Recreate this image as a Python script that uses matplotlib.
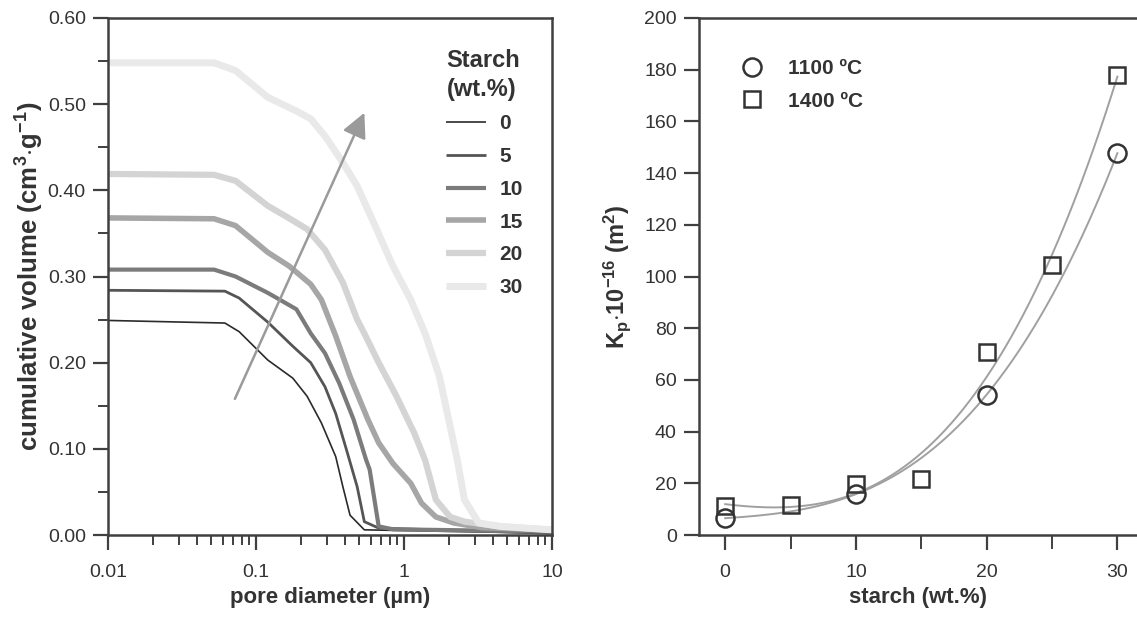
import numpy as np
import matplotlib
matplotlib.use('Agg')
import matplotlib.pyplot as plt
from matplotlib.ticker import FixedLocator, FuncFormatter, NullFormatter, LogLocator

plt.rcParams['font.family'] = ['Liberation Sans', 'DejaVu Sans']
plt.rcParams['mathtext.fontset'] = 'custom'
plt.rcParams['mathtext.rm'] = 'Liberation Sans'
plt.rcParams['mathtext.bf'] = 'Liberation Sans:bold'
plt.rcParams['mathtext.default'] = 'bf'

# ---- left panel: cumulative pore volume curves ----
starch = ['0', '5', '10', '15', '20', '30']

diam_0 = [0.01, 0.0616, 0.0769, 0.1202, 0.1774, 0.2215, 0.2767, 0.3456, 0.3864, 0.4318, 0.5395, 10]
vol_0 = [0.249, 0.246, 0.236, 0.203, 0.182, 0.161, 0.130, 0.091, 0.056, 0.023, 0.006, 0.002]

diam_5 = [0.01, 0.0616, 0.0769, 0.1202, 0.1774, 0.2343, 0.2925, 0.3456, 0.4085, 0.4826, 0.5395, 0.6745, 10]
vol_5 = [0.284, 0.283, 0.275, 0.247, 0.219, 0.200, 0.172, 0.141, 0.099, 0.056, 0.0155, 0.008, 0.002]

diam_10 = [0.01, 0.0521, 0.0728, 0.1202, 0.1875, 0.2343, 0.2925, 0.3654, 0.4565, 0.555, 0.586, 0.6745, 0.842, 10]
vol_10 = [0.308, 0.308, 0.300, 0.281, 0.262, 0.234, 0.211, 0.176, 0.134, 0.087, 0.076, 0.010, 0.0066, 0.004]

diam_15 = [0.01, 0.0521, 0.0728, 0.1202, 0.1678, 0.2343, 0.2767, 0.3456, 0.4318, 0.5703, 0.6745,
           0.842, 1.111, 1.313, 1.641, 2.168, 3.38, 10]
vol_15 = [0.368, 0.367, 0.359, 0.328, 0.312, 0.291, 0.273, 0.231, 0.184, 0.134, 0.107,
          0.083, 0.060, 0.037, 0.021, 0.014, 0.0085, 0.006]

diam_20 = [0.01, 0.0521, 0.0728, 0.1202, 0.1585, 0.2215, 0.2925, 0.3864, 0.4826, 0.5395, 0.6745,
           0.890, 1.175, 1.388, 1.641, 2.05, 2.56, 4.465, 10]
vol_20 = [0.419, 0.418, 0.411, 0.382, 0.370, 0.355, 0.331, 0.293, 0.250, 0.234, 0.200,
          0.161, 0.118, 0.087, 0.041, 0.021, 0.0155, 0.010, 0.006]

diam_30 = [0.01, 0.0521, 0.0728, 0.1202, 0.1875, 0.2343, 0.2925, 0.3864, 0.4826, 0.637, 0.842,
           1.111, 1.388, 1.735, 2.05, 2.292, 2.56, 3.197, 4.465, 10]
vol_30 = [0.548, 0.548, 0.539, 0.508, 0.492, 0.483, 0.463, 0.432, 0.405, 0.359, 0.312,
          0.273, 0.234, 0.184, 0.126, 0.087, 0.041, 0.014, 0.010, 0.006]

# ---- right panel: permeability vs starch ----
starch_1100 = [0, 10, 20, 30]
kp_1100 = [6.5, 15.8, 54.3, 147.7]
starch_1400 = [0, 5, 10, 15, 20, 25, 30]
kp_1400 = [11.3, 11.7, 19.7, 21.7, 70.8, 104.4, 177.9]

curves = [(diam_0, vol_0), (diam_5, vol_5), (diam_10, vol_10),
          (diam_15, vol_15), (diam_20, vol_20), (diam_30, vol_30)]
colors = ['#2b2b2b', '#555555', '#7b7b7b', '#a6a6a6', '#d4d4d4', '#e9e9e9']
widths = [1.2, 2.0, 3.0, 4.0, 4.5, 5.0]

axc = '#404040'

fig = plt.figure(figsize=(11.37, 6.23), dpi=100)
ax1 = fig.add_axes([108 / 1137, 88 / 623, 444 / 1137, 517 / 623])
ax2 = fig.add_axes([699 / 1137, 88 / 623, 438 / 1137, 517 / 623])

for (d, v), lab, c, w in zip(curves, starch, colors, widths):
    ax1.plot(d, v, color=c, lw=w, label=lab, solid_capstyle='butt')

ax1.set_xscale('log')
ax1.set_xlim(0.01, 10)
ax1.set_ylim(0, 0.6)
ax1.set_yticks(np.arange(0, 0.61, 0.1))
ax1.yaxis.set_minor_locator(FixedLocator(np.arange(0.05, 0.6, 0.1)))
ax1.yaxis.set_major_formatter(FuncFormatter(lambda y, p: '%.2f' % y))
ax1.xaxis.set_major_locator(LogLocator(base=10))
ax1.xaxis.set_minor_locator(LogLocator(base=10, subs=np.arange(2, 10)))
ax1.xaxis.set_major_formatter(FuncFormatter(lambda x, p: ('%g' % x)))
ax1.xaxis.set_minor_formatter(NullFormatter())

ax1.annotate('', xy=(0.54, 0.490), xytext=(0.072, 0.158),
             arrowprops=dict(arrowstyle='-|>,head_length=0.6,head_width=0.3',
                             color='#9a9a9a', lw=1.8, mutation_scale=25,
                             shrinkA=0, shrinkB=0))

leg1 = ax1.legend(loc='upper left', bbox_to_anchor=(0.72, 0.976), frameon=False,
                  title='Starch\n(wt.%)', alignment='left',
                  title_fontproperties={'weight': 'bold', 'size': 17},
                  prop={'weight': 'bold', 'size': 15},
                  handlelength=1.9, handletextpad=0.65, labelspacing=0.66)
leg1._legend_box.sep = 10
for t in leg1.get_texts():
    t.set_color('#333333')
leg1.get_title().set_color('#333333')
leg1.get_title().set_linespacing(1.3)

ax1.set_xlabel('pore diameter (µm)', fontsize=16, fontweight='bold', color='#333333', labelpad=4)
ax1.set_ylabel(r'cumulative volume (cm$^{3}$$\cdot$g$^{-1}$)', fontsize=18.5,
               fontweight='bold', color='#333333', labelpad=1)

# right panel
xs = np.linspace(0, 30, 200)
for sx, ky in [(starch_1100, kp_1100), (starch_1400, kp_1400)]:
    coef = np.polyfit(sx, ky, 3)
    ax2.plot(xs, np.polyval(coef, xs), color='#a0a0a0', lw=1.4, zorder=2)

ax2.plot(starch_1100, kp_1100, 'o', ms=13, mfc='none', mec='#333333', mew=1.8,
         label='1100 ºC', zorder=3)
ax2.plot(starch_1400, kp_1400, 's', ms=11, mfc='none', mec='#333333', mew=1.8,
         label='1400 ºC', zorder=3)

ax2.set_xlim(-2, 31.5)
ax2.set_ylim(0, 200)
ax2.set_xticks([0, 10, 20, 30])
ax2.set_xticks([5, 15, 25], minor=True)
ax2.set_yticks(np.arange(0, 201, 20))
ax2.spines['right'].set_visible(False)

leg2 = ax2.legend(loc='upper left', bbox_to_anchor=(0.05, 0.957), frameon=False,
                  numpoints=1, prop={'weight': 'bold', 'size': 15},
                  handlelength=1.2, handletextpad=1.1, labelspacing=0.65)
for t in leg2.get_texts():
    t.set_color('#333333')

ax2.set_xlabel('starch (wt.%)', fontsize=16, fontweight='bold', color='#333333', labelpad=4)
ax2.set_ylabel(r'K$_{p}$$\cdot$10$^{-16}$ (m$^{2}$)', fontsize=17,
               fontweight='bold', color='#333333', labelpad=8)

for ax in (ax1, ax2):
    for s in ax.spines.values():
        s.set_color(axc)
        s.set_linewidth(1.8)
    ax.tick_params(which='major', direction='out', length=11, width=1.6, color=axc,
                   labelsize=14, labelcolor='#333333', pad=5)
    ax.tick_params(which='minor', direction='out', length=7, width=1.4, color=axc)
    ax.tick_params(axis='x', which='major', pad=10)
ax2.tick_params(axis='x', which='minor', length=10)

fig.savefig('out.png', dpi=100)
